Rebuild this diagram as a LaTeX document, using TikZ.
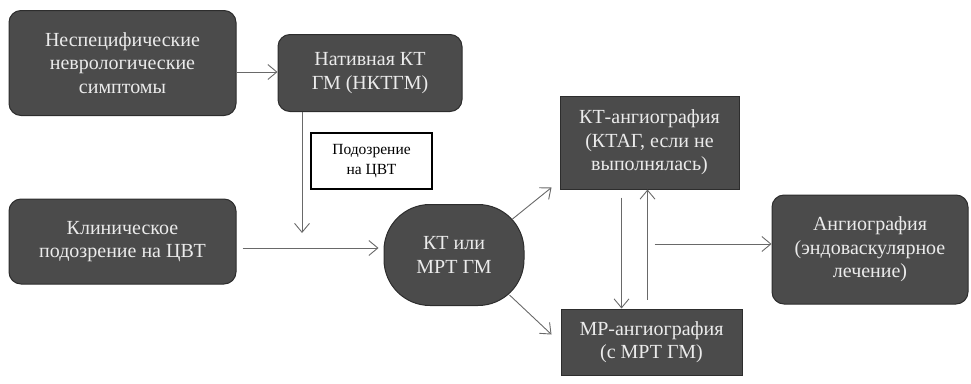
\documentclass[tikz,border=0pt]{standalone}
\usepackage{fontspec}
\setmainfont{Liberation Serif}
\usetikzlibrary{arrows.meta}
\definecolor{boxgray}{RGB}{75,75,75}
\definecolor{rimgray}{RGB}{45,45,45}
\definecolor{arrowgray}{RGB}{105,105,105}
\tikzset{
  darkbox/.style={draw=rimgray, line width=1pt, fill=boxgray, text=white!92!black,
    align=center, inner sep=0pt, font=\fontsize{20}{23.5}\selectfont},
  roundbox/.style={darkbox, rounded corners=12pt},
  notebox/.style={draw=black, line width=1.3pt, fill=white, align=center,
    inner sep=0pt, font=\fontsize{15.5}{19.5}\selectfont},
  flow/.style={draw=arrowgray, line width=0.9pt,
    -{Straight Barb[length=9pt,width=15pt,line width=0.9pt]}}
}
\begin{document}
\begin{tikzpicture}[x=1pt,y=-1pt]
    \useasboundingbox (0,0) rectangle (971,383);
    \draw   (122.5, 63) node [roundbox, minimum width=227pt, minimum height=105pt] (nonspec) {Неспецифические\\неврологические\\симптомы}
            (370, 73) node [roundbox, minimum width=184pt, minimum height=77pt] (nkt) {Нативная КТ\\ГМ (НКТГМ)}
            (371.5, 161) node [notebox, minimum width=121pt, minimum height=56pt] (suspect) {Подозрение\\на ЦВТ}
            (122.5, 241.5) node [roundbox, minimum width=227pt, minimum height=85pt] (clin) {Клиническое\\подозрение на ЦВТ}
            (454, 255) node [darkbox, rounded corners=46pt, minimum width=140pt, minimum height=101pt] (ctmri) {КТ или\\МРТ ГМ}
            (649.5, 142.5) node [darkbox, minimum width=179pt, minimum height=93pt] (cta) {КТ-ангиография\\(КТАГ, если не\\выполнялась)}
            (651.5, 342) node [darkbox, minimum width=181pt, minimum height=66pt] (mra) {МР-ангиография\\(с МРТ ГМ)}
            (870, 249.5) node [roundbox, minimum width=196pt, minimum height=109pt] (angio) {Ангиография\\(эндоваскулярное\\лечение)}
            (302, 233) coordinate (drop)

            ([yshift=-9pt]nonspec.east) edge [flow] ([yshift=-9pt]nonspec.east -| nkt.west)
            (drop |- nkt.south) edge [flow] (drop)
            ([xshift=6pt,yshift=-6.5pt]clin.east) edge [flow] ([xshift=-5pt,yshift=-6.5pt]clin.east -| ctmri.west)
            ([xshift=-12pt,yshift=-15pt]ctmri.north east) edge [flow] ([xshift=-8pt,yshift=2pt]cta.south west)
            ([xshift=-15pt,yshift=11pt]ctmri.south east) edge [flow] ([xshift=-9pt,yshift=-26pt]mra.north west)
            ([xshift=-28pt,yshift=-8pt]cta.south) edge [flow] ([xshift=-28pt]cta.south |- mra.north)
            ([xshift=-4pt,yshift=9pt]mra.north) edge [flow] ([xshift=-4pt]mra.north |- cta.south)
            ([xshift=-117pt,yshift=5.5pt]angio.west) edge [flow] ([yshift=5.5pt]angio.west)
            ;
\end{tikzpicture}
\end{document}
